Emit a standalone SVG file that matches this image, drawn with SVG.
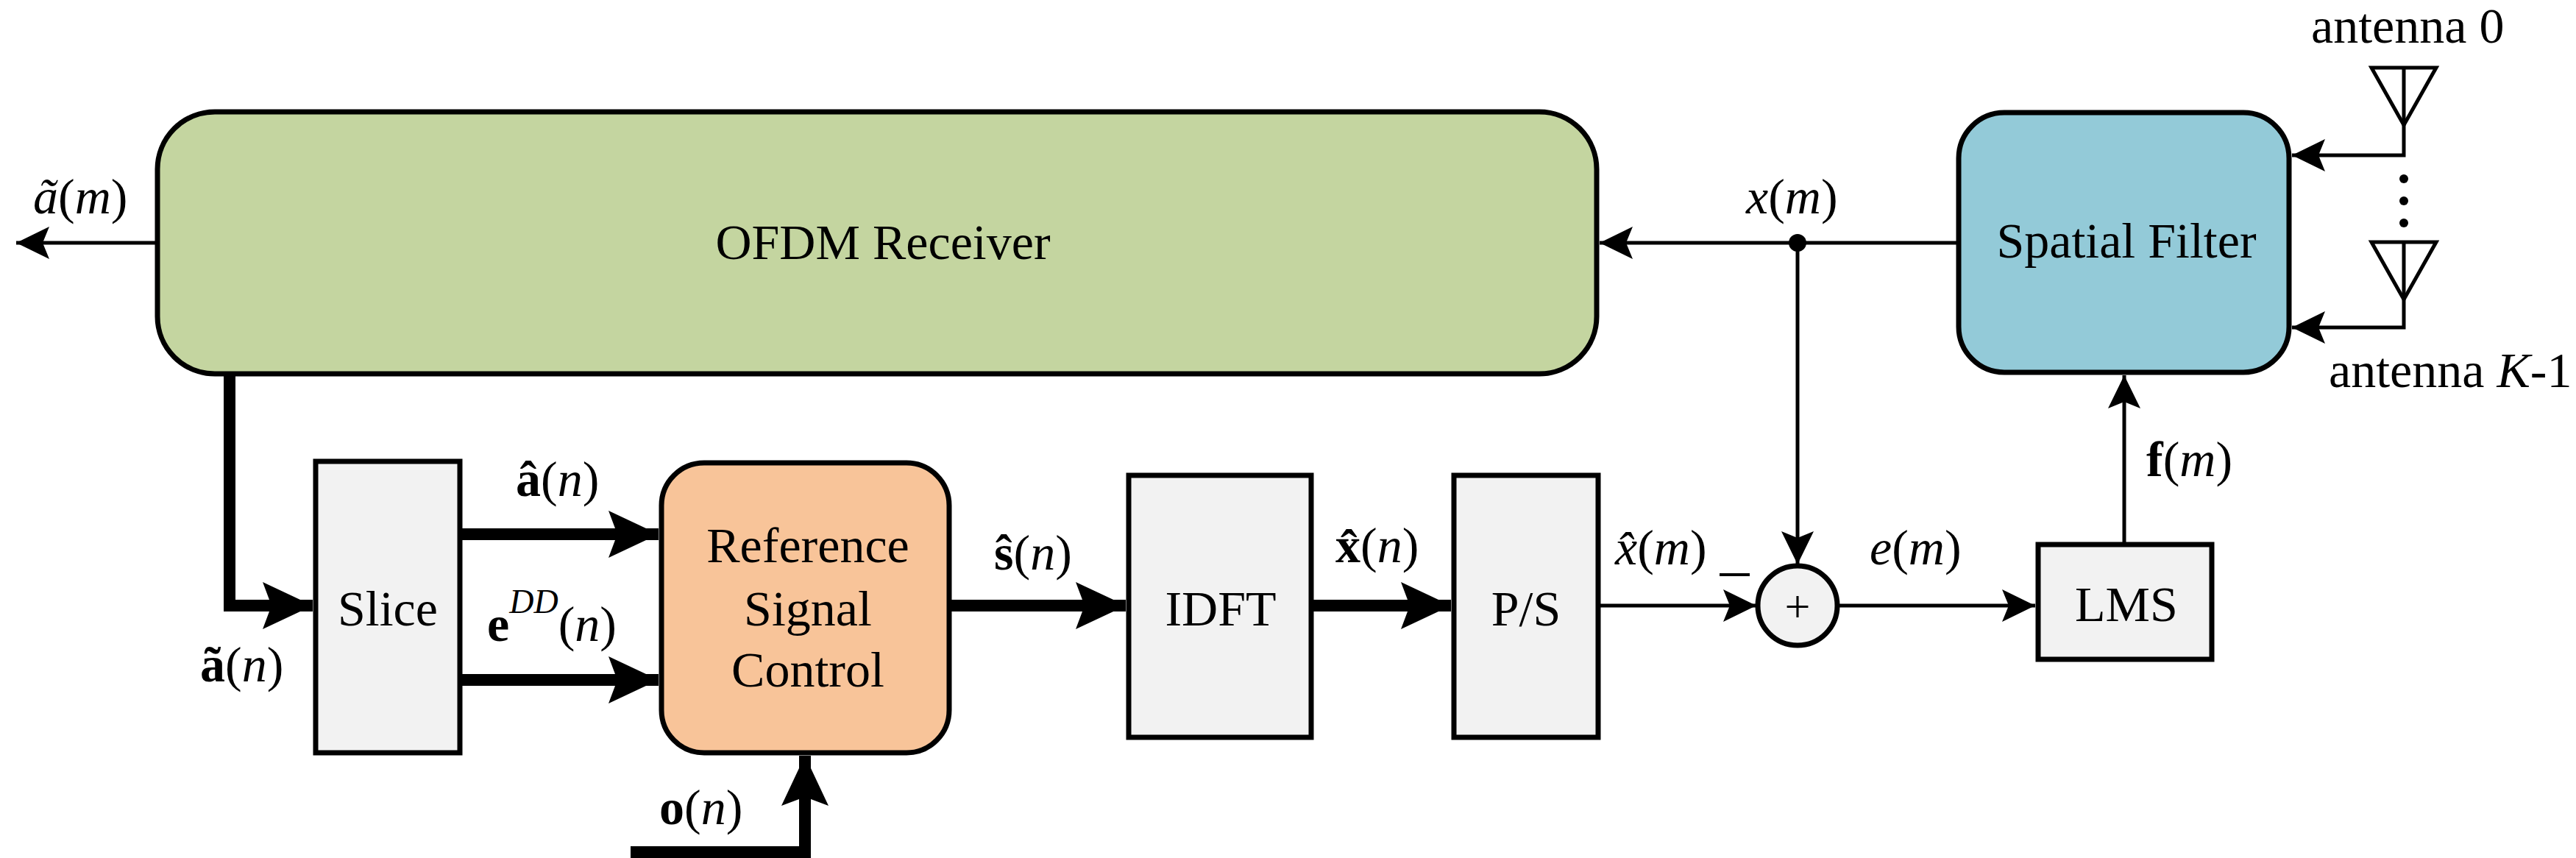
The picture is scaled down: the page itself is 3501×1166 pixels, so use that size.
<svg xmlns="http://www.w3.org/2000/svg" width="3501" height="1166" viewBox="0 0 3501 1166" font-family="'Liberation Serif', 'DejaVu Serif', serif">
<style>
text{font-family:'Liberation Serif','DejaVu Serif',serif;font-size:68px;fill:#000}
.c{text-anchor:middle}
.i{font-style:italic}
.b{font-weight:bold}
.box{stroke:#000;stroke-width:7}
.thin{stroke:#000;stroke-width:5;fill:none}
.thick{stroke:#000;stroke-width:16;fill:none}
</style>
<defs>
<marker id="at" markerUnits="userSpaceOnUse" markerWidth="60" markerHeight="60" refX="50" refY="25" orient="auto" viewBox="0 0 60 50"><path d="M50,25 L5,3 L14,25 L5,47 Z" fill="#000"/></marker>
<marker id="ak" markerUnits="userSpaceOnUse" markerWidth="80" markerHeight="70" refX="72" refY="33" orient="auto" viewBox="0 0 80 66"><path d="M72,33 L4,1 L16,33 L4,65 Z" fill="#000"/></marker>
</defs>
<g id="connectors">
<path class="thin" d="M214,330 L22,330" marker-end="url(#at)"/>
<path class="thin" d="M2662,330 L2174,330" marker-end="url(#at)"/>
<path class="thin" d="M2443,330 L2443,767" marker-end="url(#at)"/>
<circle cx="2443" cy="330" r="12" fill="#000"/>
<path class="thick" d="M312,508 L312,823 L425,823" marker-end="url(#ak)"/>
<path class="thick" d="M625,726 L895,726" marker-end="url(#ak)"/>
<path class="thick" d="M625,924 L895,924" marker-end="url(#ak)"/>
<path class="thick" d="M857,1158 L1094,1158 L1094,1027" marker-end="url(#ak)"/>
<path class="thick" d="M1290,823 L1530,823" marker-end="url(#ak)"/>
<path class="thick" d="M1782,823 L1972,823" marker-end="url(#ak)"/>
<path class="thin" d="M2172,823 L2387,823" marker-end="url(#at)"/>
<path class="thin" d="M2497,823 L2766,823" marker-end="url(#at)"/>
<path class="thin" d="M2887,740 L2887,510" marker-end="url(#at)"/>
<path class="thin" d="M3267,92 L3267,211 L3115,211" marker-end="url(#at)"/>
<path class="thin" d="M3267,329 L3267,445 L3115,445" marker-end="url(#at)"/>
<path class="thin" d="M3223,92 L3311,92 L3267,170 Z M3223,329 L3311,329 L3267,407 Z"/>
<circle cx="3267" cy="243" r="6"/><circle cx="3267" cy="273" r="6"/><circle cx="3267" cy="303" r="6"/>
</g>
<g id="ofdm"><rect class="box" x="214" y="152" width="1956" height="356" rx="78" fill="#c4d5a0"/><text class="c" x="1200" y="352">OFDM Receiver</text></g>
<g id="spatial"><rect class="box" x="2662" y="153" width="449" height="353" rx="62" fill="#93cad8"/><text class="c" x="2890" y="350">Spatial Filter</text></g>
<g id="slice"><rect class="box" x="429" y="627" width="196" height="396" fill="#f2f2f2"/><text class="c" x="527" y="850">Slice</text></g>
<g id="rsc"><rect class="box" x="899" y="629" width="391" height="394" rx="58" fill="#f8c499"/><text class="c" x="1098" y="764">Reference</text><text class="c" x="1098" y="850">Signal</text><text class="c" x="1098" y="933">Control</text></g>
<g id="idft"><rect class="box" x="1534" y="646" width="248" height="356" fill="#f2f2f2"/><text class="c" x="1659" y="850">IDFT</text></g>
<g id="ps"><rect class="box" x="1976" y="646" width="196" height="356" fill="#f2f2f2"/><text class="c" x="2074" y="850">P/S</text></g>
<g id="sum"><circle cx="2443" cy="823" r="54" fill="#f2f2f2" stroke="#000" stroke-width="7"/><text class="c" x="2443" y="845" style="font-size:62px">+</text></g>
<g id="lms"><rect class="box" x="2770" y="740" width="236" height="156" fill="#f2f2f2"/><text class="c" x="2890" y="844">LMS</text></g>
<g id="labels">
<text x="45" y="290"><tspan class="i">ã</tspan>(<tspan class="i">m</tspan>)</text>
<text x="2373" y="290"><tspan class="i">x</tspan>(<tspan class="i">m</tspan>)</text>
<text x="272" y="926"><tspan class="b">ã</tspan>(<tspan class="i">n</tspan>)</text>
<text x="701" y="674"><tspan class="b">â</tspan>(<tspan class="i">n</tspan>)</text>
<text x="662" y="871"><tspan class="b">e</tspan><tspan class="i" dy="-38" style="font-size:46px">DD</tspan><tspan dy="38">(</tspan><tspan class="i">n</tspan>)</text>
<text x="1351" y="774"><tspan class="b">ŝ</tspan>(<tspan class="i">n</tspan>)</text>
<text x="1815" y="764"><tspan class="b">x̂</tspan>(<tspan class="i">n</tspan>)</text>
<text x="2195" y="767"><tspan class="i">x̂</tspan>(<tspan class="i">m</tspan>)</text>
<path d="M2337,781 L2378,781" stroke="#000" stroke-width="4"/>
<text x="2541" y="767"><tspan class="i">e</tspan>(<tspan class="i">m</tspan>)</text>
<text x="2917" y="647"><tspan class="b">f</tspan>(<tspan class="i">m</tspan>)</text>
<text x="896" y="1120"><tspan class="b">o</tspan>(<tspan class="i">n</tspan>)</text>
<text x="3141" y="58">antenna 0</text>
<text x="3165" y="526">antenna <tspan class="i">K</tspan>-1</text>
</g>
</svg>
